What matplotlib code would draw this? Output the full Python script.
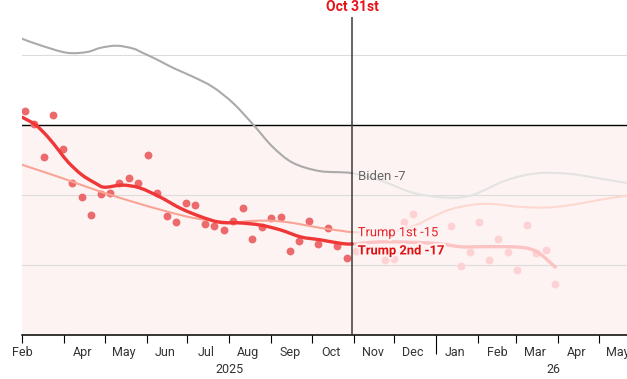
import numpy as np
import pandas as pd
import matplotlib
matplotlib.use("Agg")
import matplotlib.pyplot as plt
import matplotlib.dates as mdates
import matplotlib.patheffects as pe
import matplotlib.transforms as mtrans
from matplotlib.path import Path
from matplotlib.patches import PathPatch

plt.rcParams['font.family'] = ['Roboto', 'DejaVu Sans']

# cut-off date of the scrubber
cutoff = pd.Timestamp('2025-10-31')

# weekly polls, Trump 2nd term (net approval)
poll_dates = ['2025-03-03', '2025-03-10', '2025-03-17', '2025-03-24', '2025-03-31',
              '2025-04-07', '2025-04-14', '2025-04-21', '2025-04-28', '2025-05-05',
              '2025-05-12', '2025-05-19', '2025-05-26', '2025-06-02', '2025-06-09',
              '2025-06-16', '2025-06-23', '2025-06-30', '2025-07-07', '2025-07-14',
              '2025-07-21', '2025-07-28', '2025-08-04', '2025-08-11', '2025-08-18',
              '2025-08-25', '2025-09-01', '2025-09-08', '2025-09-15', '2025-09-22',
              '2025-09-29', '2025-10-06', '2025-10-13', '2025-10-20', '2025-10-27',
              '2025-11-03', '2025-11-24', '2025-12-01', '2025-12-08', '2025-12-15',
              '2026-01-12', '2026-01-19', '2026-01-26', '2026-02-02', '2026-02-09',
              '2026-02-16', '2026-02-23', '2026-03-02', '2026-03-09', '2026-03-16',
              '2026-03-23', '2026-03-30']
poll_net = [2.0, 0.1, -4.6, 1.4, -3.4,
            -8.3, -10.3, -12.9, -9.9, -9.7,
            -8.3, -7.6, -8.3, -4.3, -9.7,
            -13.0, -13.9, -11.1, -11.4, -14.1,
            -14.4, -15.0, -13.7, -11.9, -16.3,
            -14.6, -13.3, -13.1, -18.0, -16.6,
            -13.7, -17.0, -14.7, -17.3, -19.0,
            -18.0, -19.3, -19.1, -13.9, -12.7,
            -14.4, -20.1, -18.1, -13.9, -19.3,
            -16.3, -18.1, -20.7, -14.3, -18.3,
            -17.9, -22.7]

# smoothed averages
trump2_dates = ['2025-03-01', '2025-03-11', '2025-03-20', '2025-03-28', '2025-04-04',
                '2025-04-14', '2025-04-24', '2025-05-01', '2025-05-14', '2025-05-27',
                '2025-06-11', '2025-06-26', '2025-07-11', '2025-07-25', '2025-08-09',
                '2025-08-24', '2025-09-08', '2025-09-23', '2025-10-07', '2025-10-22',
                '2025-10-31', '2025-11-23', '2025-12-30', '2026-01-19', '2026-02-02',
                '2026-02-24', '2026-03-09', '2026-03-18', '2026-03-30']
trump2_net = [1.1, 0.0, -1.7, -3.6, -5.3,
              -7.1, -8.3, -8.9, -8.6, -9.0,
              -10.3, -11.9, -13.1, -13.9, -14.0,
              -14.3, -15.0, -16.0, -16.4, -16.9,
              -17.0, -16.7, -16.9, -17.4, -17.4,
              -17.4, -17.6, -18.3, -20.3]

trump1_dates = ['2025-03-01', '2025-03-20', '2025-04-07', '2025-04-29', '2025-05-24',
                '2025-06-11', '2025-07-01', '2025-07-16', '2025-08-04', '2025-08-19',
                '2025-09-02', '2025-09-17', '2025-10-07', '2025-10-22', '2025-10-31',
                '2025-11-23', '2025-12-13', '2025-12-30', '2026-01-11', '2026-01-28',
                '2026-02-12', '2026-03-04', '2026-03-24', '2026-04-12', '2026-05-02',
                '2026-05-22']
trump1_net = [-5.7, -6.9, -8.1, -9.6, -11.1,
              -12.1, -13.1, -13.6, -13.9, -13.7,
              -13.7, -14.0, -14.7, -15.1, -15.3,
              -15.4, -14.6, -13.1, -12.1, -11.4,
              -11.3, -11.7, -11.8, -11.4, -10.7,
              -10.1]

biden_dates = ['2025-03-01', '2025-03-14', '2025-04-03', '2025-04-18', '2025-04-28',
               '2025-05-10', '2025-05-22', '2025-05-29', '2025-06-09', '2025-06-21',
               '2025-07-05', '2025-07-20', '2025-08-04', '2025-08-19', '2025-09-02',
               '2025-09-17', '2025-10-07', '2025-10-31', '2025-11-23', '2025-12-15',
               '2026-01-09', '2026-01-28', '2026-02-22', '2026-03-17', '2026-04-10',
               '2026-04-30', '2026-05-22']
biden_net = [12.3, 11.4, 10.3, 10.4, 11.0,
             11.3, 10.9, 10.3, 9.3, 8.1,
             6.9, 5.4, 3.1, 0.0, -3.1,
             -5.4, -6.6, -6.9, -8.1, -9.7,
             -10.4, -10.0, -7.9, -6.9, -7.0,
             -7.6, -8.3]

# x-axis months
month_starts = pd.date_range('2025-03-01', '2026-05-01', freq='MS')
label_pos = ['2025-03-01', '2025-04-15', '2025-05-15', '2025-06-15', '2025-07-15',
             '2025-08-15', '2025-09-15', '2025-10-15', '2025-11-15', '2025-12-15',
             '2026-01-15', '2026-02-15', '2026-03-15', '2026-04-15', '2026-05-15']
label_txt = ['Feb', 'Apr', 'May', 'Jun', 'Jul', 'Aug', 'Sep', 'Oct', 'Nov', 'Dec',
             'Jan', 'Feb', 'Mar', 'Apr', 'May']

pink = '#fef3f3'


def smooth_paths(dates, vals):
    # catmull-rom curve through the points, split at the cut-off
    x = mdates.date2num(pd.to_datetime(dates))
    y = np.array(vals, dtype=float)
    p = np.column_stack([x, y])
    pp = np.vstack([p[:1], p, p[-1:]])
    cut = mdates.date2num(cutoff)
    segs_a, segs_b = [], []
    for i in range(len(p) - 1):
        p0, p1, p2, p3 = pp[i], pp[i + 1], pp[i + 2], pp[i + 3]
        c1 = p1 + (p2 - p0) / 6
        c2 = p2 - (p3 - p1) / 6
        (segs_a if p2[0] <= cut else segs_b).append((p1, c1, c2, p2))

    def build(segs):
        verts, codes = [], []
        for j, (a, b, c, d) in enumerate(segs):
            if j == 0:
                verts.append(a)
                codes.append(Path.MOVETO)
            verts += [b, c, d]
            codes += [Path.CURVE4] * 3
        return Path(verts, codes) if verts else None

    return build(segs_a), build(segs_b)


fig = plt.figure(figsize=(6.27, 3.79), dpi=100)
ax = fig.add_axes([22 / 627, 44 / 379, 605 / 627, 318 / 379])

ax.set_xlim(pd.Timestamp('2025-03-01'), pd.Timestamp('2026-05-22'))
ax.set_ylim(-30, 15.4)

ax.axhspan(-30, 0, color=pink, zorder=0, lw=0)
for g in [10, -10, -20]:
    ax.axhline(g, color='#dcdcdc', lw=0.8, zorder=1)
ax.axhline(0, color='black', lw=1.0, zorder=1)

# polls
pd_ = pd.to_datetime(poll_dates)
pv = np.array(poll_net)
m = pd_ < cutoff
ax.scatter(pd_[m], pv[m], s=32, color='#ec6a6c', lw=0, zorder=2)
ax.scatter(pd_[~m], pv[~m], s=32, color='#fcd2d4', lw=0, zorder=2)

# lines
styles = [
    (biden_dates, biden_net, '#aaaaaa', '#e3e3e3', 1.5),
    (trump1_dates, trump1_net, '#f9a494', '#fdd8d0', 1.5),
    (trump2_dates, trump2_net, '#f03737', '#fcc3c3', 2.4),
]
for dates, vals, c1, c2, lw in styles:
    path_a, path_b = smooth_paths(dates, vals)
    ax.add_patch(PathPatch(path_b, fill=False, edgecolor=c2, lw=lw,
                           capstyle='round', joinstyle='round', zorder=3))
    ax.add_patch(PathPatch(path_a, fill=False, edgecolor=c1, lw=lw,
                           capstyle='round', joinstyle='round', zorder=4))

ax.axvline(cutoff, color='#3a3a3a', lw=1.1, zorder=5)

trans = mtrans.blended_transform_factory(ax.transData, ax.transAxes)
ax.text(cutoff, 1.031, 'Oct 31st', transform=trans, ha='center', va='center',
        fontsize=10, fontweight='bold', color='#e5141a')

halo = [pe.withStroke(linewidth=3, foreground=pink)]
ax.annotate('Biden -7', xy=(cutoff, -7.4), xytext=(4, 0), textcoords='offset points',
            ha='left', va='center', fontsize=9.5, color='#666666', zorder=6)
ax.annotate('Trump 1st -15', xy=(cutoff, -15.4), xytext=(4, 0), textcoords='offset points',
            ha='left', va='center', fontsize=9.3, color='#e8232a', zorder=6,
            path_effects=halo)
ax.annotate('Trump 2nd -17', xy=(cutoff, -18.0), xytext=(4, 0), textcoords='offset points',
            ha='left', va='center', fontsize=9.3, fontweight='bold', color='#dd1111',
            zorder=6, path_effects=halo)

# axes styling
for s in ['top', 'right', 'left']:
    ax.spines[s].set_visible(False)
ax.spines['bottom'].set_color('black')
ax.spines['bottom'].set_linewidth(1.1)
ax.set_yticks([])

ax.xaxis.remove_overlapping_locs = False
ax.set_xticks(month_starts)
ax.set_xticklabels([])
ax.tick_params(axis='x', which='major', length=5.8, width=0.8, color='black')
for t, d in zip(ax.xaxis.get_major_ticks(), month_starts):
    if d.month == 1:
        t.tick1line.set_markersize(13.7)

ax.set_xticks(pd.to_datetime(label_pos), minor=True)
ax.set_xticklabels(label_txt, minor=True)
ax.tick_params(axis='x', which='minor', length=0, pad=8, labelsize=9, labelcolor='#333333')

ax.text(pd.Timestamp('2025-08-01'), -0.11, '2025', transform=trans, ha='center',
        va='center', fontsize=9, color='#333333')
ax.text(pd.Timestamp('2026-03-29'), -0.11, '26', transform=trans, ha='center',
        va='center', fontsize=9, color='#333333')

fig.savefig('out.png', dpi=100)
